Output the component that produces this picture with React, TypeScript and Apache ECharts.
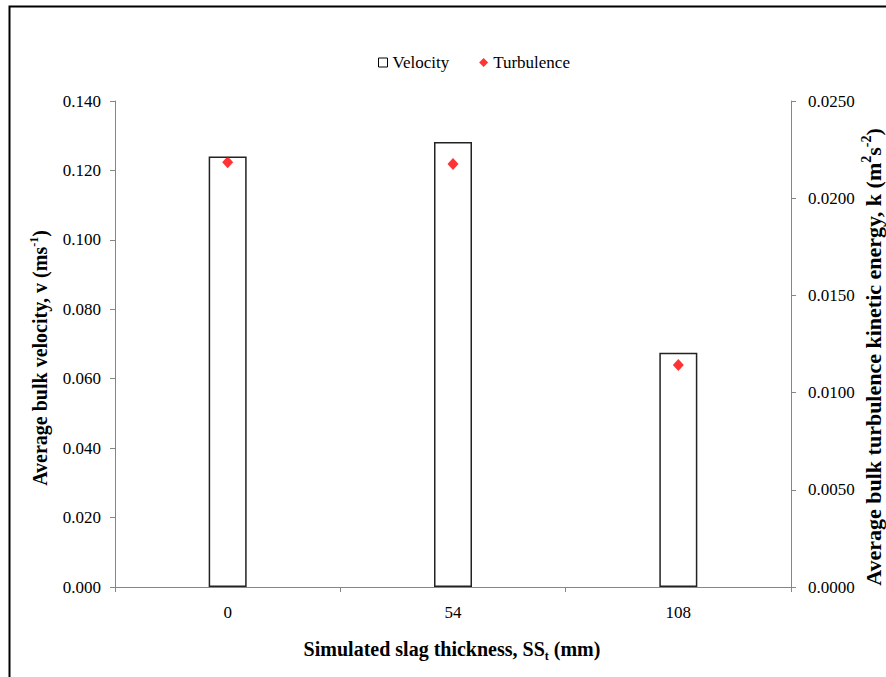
import React, { useEffect, useRef } from "react";
import * as echarts from "echarts";

// Slag thickness categories (mm)
const categories = ["0", "54", "108"];
// Average bulk velocity, v (m/s)
const velocity = [0.124, 0.1282, 0.0675];
// Average bulk turbulence kinetic energy, k (m2/s2)
const turbulence = [0.02185, 0.02176, 0.01142];

const FONT = "Liberation Serif";
const AXIS_COLOR = "#868686";

// Bold axis titles with raised / lowered fragments for units and subscripts
const makeTitleRich = (size: number) => ({
  b: { fontFamily: FONT, fontSize: size, fontWeight: "bold", color: "#000", lineHeight: size + 5 },
  sup: { fontFamily: FONT, fontSize: Math.round(size * 0.62), fontWeight: "bold", color: "#000", lineHeight: Math.round(size * 0.62), verticalAlign: "top" },
  sub: { fontFamily: FONT, fontSize: Math.round(size * 0.62), fontWeight: "bold", color: "#000", lineHeight: Math.round(size * 0.62), verticalAlign: "bottom" },
});

const tickText = { fontFamily: FONT, fontSize: 17, color: "#000", fontWeight: "normal" };
const tickRich = { t: tickText };

export default function App() {
  const ref = useRef<HTMLDivElement>(null);

  useEffect(() => {
    if (!ref.current) return;
    const chart = echarts.init(ref.current, undefined, { renderer: "svg" });
    chart.setOption({
      animation: false,
      backgroundColor: "#fff",
      textStyle: { fontFamily: FONT },
      grid: { left: 115, right: 95, top: 101, bottom: 90, containLabel: false },
      legend: {
        left: 373,
        top: 49,
        itemGap: 30,
        itemWidth: 9,
        itemHeight: 9,
        formatter: (name: string) => `{t|${name}}`,
        textStyle: { ...tickText, rich: tickRich },
        data: [
          { name: "Velocity", icon: "rect", itemStyle: { color: "#fff", borderColor: "#000", borderWidth: 1 } },
          { name: "Turbulence", icon: "diamond", itemStyle: { color: "#ff0000" } },
        ],
      },
      xAxis: {
        type: "category",
        data: categories,
        boundaryGap: true,
        axisLine: { lineStyle: { color: AXIS_COLOR, width: 1 } },
        axisTick: { show: true, alignWithLabel: false, length: 5, lineStyle: { color: AXIS_COLOR } },
        axisLabel: { ...tickText, margin: 17, rich: tickRich, formatter: (v: string) => `{t|${v}}` },
        splitLine: { show: false },
      },
      yAxis: [
        {
          type: "value",
          min: 0,
          max: 0.14,
          interval: 0.02,
          axisLine: { show: true, lineStyle: { color: AXIS_COLOR, width: 1 } },
          axisTick: { show: true, length: 5, lineStyle: { color: AXIS_COLOR } },
          axisLabel: { ...tickText, margin: 14, rich: tickRich, formatter: (v: number) => `{t|${v.toFixed(3)}}` },
          splitLine: { show: false },
        },
        {
          type: "value",
          min: 0,
          max: 0.025,
          interval: 0.005,
          position: "right",
          axisLine: { show: true, lineStyle: { color: AXIS_COLOR, width: 1 } },
          axisTick: { show: true, length: 5, lineStyle: { color: AXIS_COLOR } },
          axisLabel: { ...tickText, margin: 17, rich: tickRich, formatter: (v: number) => `{t|${v.toFixed(4)}}` },
          splitLine: { show: false },
        },
      ],
      series: [
        {
          name: "Velocity",
          type: "bar",
          data: velocity,
          barWidth: 38,
          itemStyle: { color: "#fff", borderColor: "#222", borderWidth: 1.5 },
        },
        {
          name: "Turbulence",
          type: "scatter",
          yAxisIndex: 1,
          data: turbulence,
          symbol: "diamond",
          symbolSize: [11, 12],
          itemStyle: { color: "#ff0000" },
          z: 5,
        },
      ],
      graphic: [
        {
          type: "rect",
          shape: { x: 9.5, y: 6.5, width: 900, height: 700 },
          style: { fill: "none", stroke: "#000", lineWidth: 2 },
          silent: true,
        },
        {
          type: "text",
          x: 40,
          y: 358,
          rotation: Math.PI / 2,
          style: {
            text: "{b|Average bulk velocity, v (ms}{sup|-1}{b|)}",
            rich: makeTitleRich(20),
            align: "center",
            verticalAlign: "middle",
          },
        },
        {
          type: "text",
          x: 873,
          y: 357,
          rotation: Math.PI / 2,
          style: {
            text: "{b|Average bulk turbulence kinetic energy, k (m}{sup|2}{b|s}{sup|-2}{b|)}",
            rich: makeTitleRich(22),
            align: "center",
            verticalAlign: "middle",
          },
        },
        {
          type: "text",
          x: 452,
          y: 649,
          style: {
            text: "{b|Simulated slag thickness, SS}{sub|t}{b| (mm)}",
            rich: makeTitleRich(20),
            align: "center",
            verticalAlign: "middle",
          },
        },
      ],
    });
    return () => chart.dispose();
  }, []);

  return (
    <div
      ref={ref}
      style={{ position: "fixed", left: 0, top: 0, width: 886, height: 677, background: "#fff" }}
    />
  );
}
